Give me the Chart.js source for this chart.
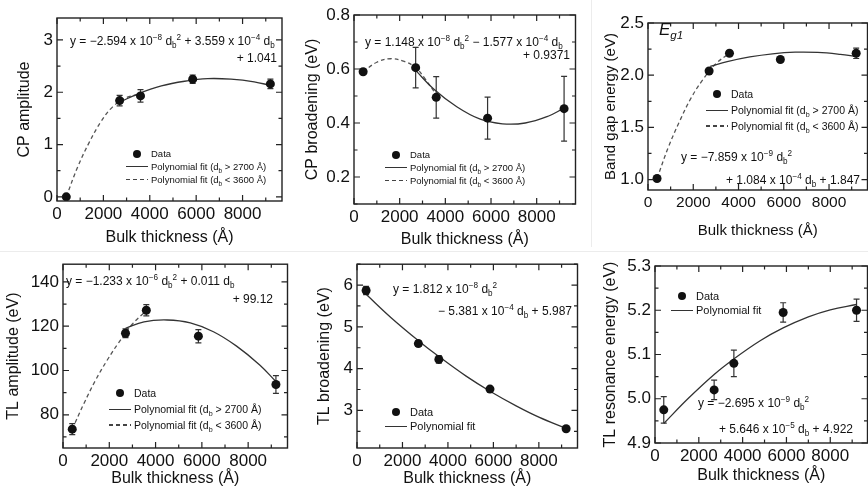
<!DOCTYPE html>
<html>
<head>
<meta charset="utf-8">
<script src="https://cdn.jsdelivr.net/npm/chart.js@4.4.1/dist/chart.umd.min.js"></script>
<style>
  html, body { margin: 0; padding: 0; background: #fff; overflow: hidden; }
  #fig { position: relative; width: 868px; height: 492px; overflow: hidden;
         font-family: "Liberation Sans", Arial, sans-serif; color: #111; }
  canvas { position: absolute; }
  .eq { position: absolute; font-size: 12px; line-height: 14px; white-space: nowrap; }
  sup, sub { font-size: 0.68em; line-height: 0; }
  .leg { position: absolute; white-space: nowrap; }
  .row { display: flex; align-items: center; }
  .mk { width: 22px; margin-right: 3px; display: flex; justify-content: center; align-items: center; }
  .dot { width: 8px; height: 8px; border-radius: 50%; background: #111; }
  .solid { width: 22px; height: 0; border-top: 1.2px solid #333; }
  .dash { width: 22px; height: 1.2px; background: repeating-linear-gradient(90deg, #444 0 4px, transparent 4px 7px); }
  .eg { position: absolute; font-size: 17px; font-style: italic; }
  .sep { position: absolute; background: #ececec; }
</style>
</head>
<body>
<div id="fig">
  <div class="sep" style="left:0;top:251px;width:868px;height:1px"></div>
  <div class="sep" style="left:591px;top:0;width:1px;height:247px"></div>

  <canvas id="p1" width="290" height="248" style="left:0;top:0"></canvas>
  <canvas id="p2" width="290" height="250" style="left:290px;top:0"></canvas>
  <canvas id="p3" width="292" height="242" style="left:580px;top:0"></canvas>
  <canvas id="p4" width="292" height="240" style="left:0;top:250px"></canvas>
  <canvas id="p5" width="290" height="240" style="left:292px;top:250px"></canvas>
  <canvas id="p6" width="290" height="240" style="left:582px;top:250px"></canvas>

  <!-- equations -->
  <div class="eq" style="left:70px;top:34px">y = &minus;2.594 x 10<sup>&minus;8</sup> d<sub>b</sub><sup>2</sup> + 3.559 x 10<sup>&minus;4</sup> d<sub>b</sub></div>
  <div class="eq" style="right:591px;top:51px">+ 1.041</div>

  <div class="eq" style="left:365px;top:35px">y = 1.148 x 10<sup>&minus;8</sup> d<sub>b</sub><sup>2</sup> &minus; 1.577 x 10<sup>&minus;4</sup> d<sub>b</sub></div>
  <div class="eq" style="right:298px;top:48px">+ 0.9371</div>

  <div class="eq" style="left:681px;top:150px">y = &minus;7.859 x 10<sup>&minus;9</sup> d<sub>b</sub><sup>2</sup></div>
  <div class="eq" style="right:8px;top:173px">+ 1.084 x 10<sup>&minus;4</sup> d<sub>b</sub> + 1.847</div>

  <div class="eq" style="left:66px;top:274px">y = &minus;1.233 x 10<sup>&minus;6</sup> d<sub>b</sub><sup>2</sup> + 0.011 d<sub>b</sub></div>
  <div class="eq" style="right:595px;top:292px">+ 99.12</div>

  <div class="eq" style="left:393px;top:282px">y = 1.812 x 10<sup>&minus;8</sup> d<sub>b</sub><sup>2</sup></div>
  <div class="eq" style="right:296px;top:304px">&minus; 5.381 x 10<sup>&minus;4</sup> d<sub>b</sub> + 5.987</div>

  <div class="eq" style="left:698px;top:396px">y = &minus;2.695 x 10<sup>&minus;9</sup> d<sub>b</sub><sup>2</sup></div>
  <div class="eq" style="right:15px;top:422px">+ 5.646 x 10<sup>&minus;5</sup> d<sub>b</sub> + 4.922</div>

  <div class="eg" style="left:659px;top:20px">E<sub>g1</sub></div>

  <!-- legends -->
  <div class="leg" style="left:126px;top:147px;font-size:9.5px;line-height:13px">
    <div class="row"><span class="mk"><i class="dot"></i></span><span>Data</span></div>
    <div class="row"><span class="mk"><i class="solid"></i></span><span>Polynomial fit (d<sub>b</sub> &gt; 2700 Å)</span></div>
    <div class="row"><span class="mk"><i class="dash"></i></span><span>Polynomial fit (d<sub>b</sub> &lt; 3600 Å)</span></div>
  </div>
  <div class="leg" style="left:385px;top:148px;font-size:9.5px;line-height:13px">
    <div class="row"><span class="mk"><i class="dot"></i></span><span>Data</span></div>
    <div class="row"><span class="mk"><i class="solid"></i></span><span>Polynomial fit (d<sub>b</sub> &gt; 2700 Å)</span></div>
    <div class="row"><span class="mk"><i class="dash"></i></span><span>Polynomial fit (d<sub>b</sub> &lt; 3600 Å)</span></div>
  </div>
  <div class="leg" style="left:706px;top:86px;font-size:10.5px;line-height:16px">
    <div class="row"><span class="mk"><i class="dot"></i></span><span>Data</span></div>
    <div class="row"><span class="mk"><i class="solid"></i></span><span>Polynomial fit (d<sub>b</sub> &gt; 2700 Å)</span></div>
    <div class="row"><span class="mk"><i class="dash"></i></span><span>Polynomial fit (d<sub>b</sub> &lt; 3600 Å)</span></div>
  </div>
  <div class="leg" style="left:109px;top:385px;font-size:10.5px;line-height:16px">
    <div class="row"><span class="mk"><i class="dot"></i></span><span>Data</span></div>
    <div class="row"><span class="mk"><i class="solid"></i></span><span>Polynomial fit (d<sub>b</sub> &gt; 2700 Å)</span></div>
    <div class="row"><span class="mk"><i class="dash"></i></span><span>Polynomial fit (d<sub>b</sub> &lt; 3600 Å)</span></div>
  </div>
  <div class="leg" style="left:385px;top:405px;font-size:11px;line-height:14px">
    <div class="row"><span class="mk"><i class="dot"></i></span><span>Data</span></div>
    <div class="row"><span class="mk"><i class="solid"></i></span><span>Polynomial fit</span></div>
  </div>
  <div class="leg" style="left:671px;top:289px;font-size:11px;line-height:14px">
    <div class="row"><span class="mk"><i class="dot"></i></span><span>Data</span></div>
    <div class="row"><span class="mk"><i class="solid"></i></span><span>Polynomial fit</span></div>
  </div>
</div>

<script>
// Bulk thickness of the samples (Å)
const thickness = [400, 2700, 3600, 5850, 9200];
const xTicks = [0, 2000, 4000, 6000, 8000];

// CP amplitude
const cpAmplitude = [0.0, 1.84, 1.93, 2.25, 2.16];
const cpAmplitudeErr = [0.03, 0.1, 0.12, 0.08, 0.09];
const cpAmpFitX = [2700, 3500, 4500, 5500, 6500, 7500, 8500, 9200];
const cpAmpFitY = [1.81, 1.97, 2.12, 2.21, 2.26, 2.25, 2.2, 2.13];
const cpAmpDashX = [400, 900, 1400, 1900, 2400, 3000, 3600];
const cpAmpDashY = [0.0, 0.58, 1.05, 1.44, 1.72, 1.9, 1.96];
const cpAmpTicks = [0, 1, 2, 3];

// CP broadening (eV)
const cpBroadening = [0.59, 0.605, 0.495, 0.418, 0.453];
const cpBroadeningErr = [0.01, 0.075, 0.077, 0.078, 0.12];
const cpBroadFitX = [2700, 3500, 4500, 5500, 6500, 7500, 8500, 9200];
const cpBroadFitY = [0.595, 0.525, 0.46, 0.415, 0.397, 0.4, 0.425, 0.455];
const cpBroadDashX = [400, 1000, 1600, 2200, 2700, 3100, 3600];
const cpBroadDashY = [0.59, 0.625, 0.638, 0.628, 0.605, 0.565, 0.505];
const cpBroadTicks = [0.2, 0.4, 0.6, 0.8];

// Band gap energy Eg1 (eV)
const bandGap = [1.01, 2.04, 2.21, 2.15, 2.21];
const bandGapErr = [0.015, 0.02, 0.02, 0.02, 0.05];
const gapFitX = [2750, 3500, 4500, 5500, 6500, 7500, 8500, 9200];
const gapFitY = [2.085, 2.13, 2.175, 2.205, 2.22, 2.218, 2.2, 2.18];
const gapDashX = [400, 900, 1400, 1900, 2400, 3000, 3600];
const gapDashY = [1.01, 1.31, 1.56, 1.78, 1.95, 2.11, 2.21];
const gapTicks = [1.0, 1.5, 2.0, 2.5];

// TL amplitude (eV)
const tlAmplitude = [73.5, 116.8, 127.2, 115.5, 93.7];
const tlAmplitudeErr = [2.5, 2, 2.5, 3, 4];
const tlAmpFitX = [2700, 3500, 4500, 5500, 6500, 7500, 8500, 9200];
const tlAmpFitY = [119, 122, 122.8, 121.5, 117.5, 111, 102.5, 95];
const tlAmpDashX = [400, 900, 1400, 1900, 2400, 3000, 3600];
const tlAmpDashY = [73.5, 85, 95.5, 104.5, 112.5, 121, 127];
const tlAmpTicks = [80, 100, 120, 140];

// TL broadening (eV)
const tlBroadening = [5.87, 4.6, 4.22, 3.51, 2.56];
const tlBroadeningErr = [0.1, 0.07, 0.09, 0.04, 0.04];
const tlBroadFitX = [400, 1500, 2700, 3600, 4800, 5850, 7000, 8000, 9200];
const tlBroadFitY = [5.78, 5.22, 4.67, 4.29, 3.82, 3.46, 3.11, 2.84, 2.57];
const tlBroadTicks = [3, 4, 5, 6];

// TL resonance energy (eV)
const tlResonance = [4.975, 5.02, 5.08, 5.195, 5.2];
const tlResonanceErr = [0.03, 0.022, 0.03, 0.022, 0.025];
const tlResFitX = [400, 1500, 2700, 3600, 4800, 5850, 7000, 8000, 9200];
const tlResFitY = [4.944, 5.0, 5.055, 5.09, 5.131, 5.16, 5.185, 5.201, 5.213];
const tlResTicks = [4.9, 5.0, 5.1, 5.2, 5.3];

Chart.defaults.font.family = '"Liberation Sans", Arial, sans-serif';
Chart.defaults.color = '#111';

const zip = (xs, ys) => xs.map((x, i) => ({ x: x, y: ys[i] }));

// box around the plot with inward ticks on all four sides
const framePlugin = {
    id: 'frame',
    afterDraw(chart, args, opts) {
        const { ctx, chartArea: a } = chart;
        const x = chart.scales.x, y = chart.scales.y;
        ctx.save();
        ctx.strokeStyle = '#222';
        ctx.lineWidth = 1.4;
        ctx.strokeRect(a.left, a.top, a.right - a.left, a.bottom - a.top);
        ctx.lineWidth = 1.2;
        const marks = (scale, major, minor, horiz) => {
            for (let k = Math.ceil(scale.min / minor - 1e-9); k * minor <= scale.max + 1e-9; k++) {
                const v = k * minor;
                const len = Math.abs(v / major - Math.round(v / major)) < 1e-6 ? 6 : 3.5;
                const p = scale.getPixelForValue(v);
                ctx.beginPath();
                if (horiz) {
                    ctx.moveTo(p, a.bottom); ctx.lineTo(p, a.bottom - len);
                    ctx.moveTo(p, a.top); ctx.lineTo(p, a.top + len);
                } else {
                    ctx.moveTo(a.left, p); ctx.lineTo(a.left + len, p);
                    ctx.moveTo(a.right, p); ctx.lineTo(a.right - len, p);
                }
                ctx.stroke();
            }
        };
        marks(x, 2000, 1000, true);
        marks(y, opts.yMajor, opts.yMinor, false);
        ctx.restore();
    }
};

// vertical error bars from dataset.errors
const errorBarPlugin = {
    id: 'errorBars',
    beforeDatasetsDraw(chart) {
        const { ctx } = chart;
        const x = chart.scales.x, y = chart.scales.y;
        ctx.save();
        ctx.strokeStyle = '#333';
        ctx.lineWidth = 1.2;
        chart.data.datasets.forEach(ds => {
            if (!ds.errors) return;
            ds.data.forEach((pt, i) => {
                const px = x.getPixelForValue(pt.x);
                const top = y.getPixelForValue(pt.y + ds.errors[i]);
                const bot = y.getPixelForValue(pt.y - ds.errors[i]);
                ctx.beginPath();
                ctx.moveTo(px, top); ctx.lineTo(px, bot);
                ctx.moveTo(px - 3, top); ctx.lineTo(px + 3, top);
                ctx.moveTo(px - 3, bot); ctx.lineTo(px + 3, bot);
                ctx.stroke();
            });
        });
        ctx.restore();
    }
};

function pointsSet(values, errors) {
    return {
        data: zip(thickness, values),
        errors: errors,
        pointRadius: 4.5,
        pointBackgroundColor: '#111',
        pointBorderWidth: 0,
        showLine: false
    };
}

function fitSet(xs, ys, dashed) {
    return {
        data: zip(xs, ys),
        showLine: true,
        pointRadius: 0,
        borderColor: dashed ? '#555' : '#333',
        borderWidth: 1.3,
        borderDash: dashed ? [4, 3] : [],
        tension: 0.4,
        fill: false
    };
}

function makePanel(id, p) {
    const tickSize = p.tickSize || 17;
    const titleSize = p.titleSize || 16;
    return new Chart(document.getElementById(id), {
        type: 'scatter',
        data: { datasets: p.datasets },
        options: {
            responsive: false,
            animation: false,
            events: [],
            layout: { padding: { top: p.padTop, right: p.padRight, left: 0, bottom: 0 } },
            plugins: {
                legend: { display: false },
                tooltip: { enabled: false },
                frame: { yMajor: p.yMajor, yMinor: p.yMinor }
            },
            scales: {
                x: {
                    type: 'linear',
                    min: 0,
                    max: 9700,
                    afterBuildTicks: s => { s.ticks = xTicks.map(v => ({ value: v })); },
                    afterFit: s => { s.height = p.xH; },
                    grid: { display: false, drawTicks: false },
                    border: { display: false },
                    ticks: {
                        autoSkip: false,
                        maxRotation: 0,
                        padding: 3,
                        color: '#111',
                        font: { size: p.xTickSize || tickSize },
                        callback: v => v.toFixed(0)
                    },
                    title: {
                        display: true,
                        text: 'Bulk thickness (Å)',
                        color: '#111',
                        font: { size: titleSize },
                        padding: { top: 0, bottom: p.xTitlePad }
                    }
                },
                y: {
                    type: 'linear',
                    min: p.yMin,
                    max: p.yMax,
                    afterBuildTicks: s => { s.ticks = p.yTicks.map(v => ({ value: v })); },
                    afterFit: s => { s.width = p.yW; },
                    grid: { display: false, drawTicks: false },
                    border: { display: false },
                    ticks: {
                        autoSkip: false,
                        padding: 4,
                        color: '#111',
                        font: { size: tickSize },
                        callback: v => v.toFixed(p.dec)
                    },
                    title: {
                        display: true,
                        text: p.yTitle,
                        color: '#111',
                        font: { size: titleSize },
                        padding: { top: p.yTitlePad, bottom: 0 }
                    }
                }
            }
        },
        plugins: [framePlugin, errorBarPlugin]
    });
}

makePanel('p1', {
    datasets: [pointsSet(cpAmplitude, cpAmplitudeErr), fitSet(cpAmpFitX, cpAmpFitY, false), fitSet(cpAmpDashX, cpAmpDashY, true)],
    yTitle: 'CP amplitude', yMin: -0.08, yMax: 3.42, yTicks: cpAmpTicks, yMajor: 1, yMinor: 0.5, dec: 0,
    padTop: 18, padRight: 8, yW: 57, xH: 47, yTitlePad: 15.4, xTitlePad: 0.4
});

makePanel('p2', {
    datasets: [pointsSet(cpBroadening, cpBroadeningErr), fitSet(cpBroadFitX, cpBroadFitY, false), fitSet(cpBroadDashX, cpBroadDashY, true)],
    yTitle: 'CP broadening (eV)', yMin: 0.1, yMax: 0.8, yTicks: cpBroadTicks, yMajor: 0.2, yMinor: 0.1, dec: 1,
    padTop: 15, padRight: 3, yW: 64, xH: 46, yTitlePad: 13.4, xTitlePad: 0.4
});

makePanel('p3', {
    datasets: [pointsSet(bandGap, bandGapErr), fitSet(gapFitX, gapFitY, false), fitSet(gapDashX, gapDashY, true)],
    yTitle: 'Band gap energy (eV)', yMin: 0.9, yMax: 2.5, yTicks: gapTicks, yMajor: 0.5, yMinor: 0.25, dec: 1,
    xTickSize: 15.5, titleSize: 15,
    padTop: 23, padRight: 3, yW: 68, xH: 52, yTitlePad: 21.5, xTitlePad: 2.5
});

makePanel('p4', {
    datasets: [pointsSet(tlAmplitude, tlAmplitudeErr), fitSet(tlAmpFitX, tlAmpFitY, false), fitSet(tlAmpDashX, tlAmpDashY, true)],
    yTitle: 'TL amplitude (eV)', yMin: 65, yMax: 148, yTicks: tlAmpTicks, yMajor: 20, yMinor: 10, dec: 0,
    padTop: 12, padRight: 4, yW: 63, xH: 42, yTitlePad: 4.4, xTitlePad: 1.4
});

makePanel('p5', {
    datasets: [pointsSet(tlBroadening, tlBroadeningErr), fitSet(tlBroadFitX, tlBroadFitY, false)],
    yTitle: 'TL broadening (eV)', yMin: 2.1, yMax: 6.5, yTicks: tlBroadTicks, yMajor: 1, yMinor: 0.5, dec: 0,
    padTop: 13, padRight: 4, yW: 65, xH: 42, yTitlePad: 23.4, xTitlePad: 1.4
});

makePanel('p6', {
    datasets: [pointsSet(tlResonance, tlResonanceErr), fitSet(tlResFitX, tlResFitY, false)],
    yTitle: 'TL resonance energy (eV)', yMin: 4.9, yMax: 5.3, yTicks: tlResTicks, yMajor: 0.1, yMinor: 0.05, dec: 1,
    padTop: 16, padRight: 3, yW: 73, xH: 47, yTitlePad: 19.4, xTitlePad: 4.4
});
</script>
</body>
</html>
